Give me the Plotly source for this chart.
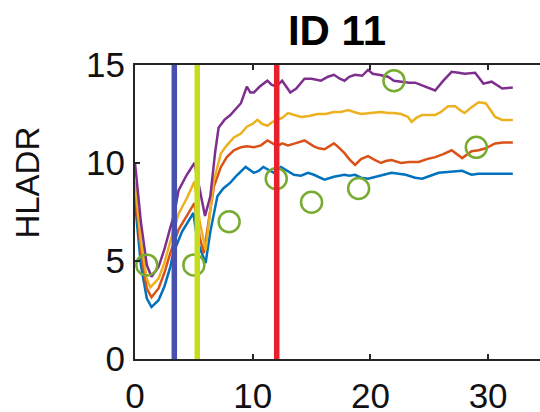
import plotly.graph_objects as go

# ---- data ----
t_blue = [0, 0.5, 1.0, 1.4, 2.0, 2.5, 3.0, 3.25, 4.0, 4.96, 5.3, 6.0, 6.4, 7.0, 7.5, 8.1, 8.7, 9.4,
          10.1, 10.5, 10.9, 11.3, 11.8, 12.4, 13.0, 13.5, 14.1, 14.7, 15.2, 15.6, 16.1, 16.9, 17.8,
          18.2, 18.7, 19.2, 19.8, 20.8, 21.8, 22.4, 23.0, 23.8, 24.4, 25.1, 25.8, 26.8, 27.8, 28.2,
          28.6, 29.2, 30.5, 32.1]
v_blue = [8.0, 4.8, 3.1, 2.65, 3.0, 3.7, 4.7, 5.4, 6.5, 7.45, 6.0, 4.9, 6.5, 8.3, 8.7, 9.0, 9.4, 9.8,
          9.5, 9.6, 9.8, 9.65, 9.5, 9.8, 9.6, 9.4, 9.35, 9.5, 9.4, 9.3, 9.15, 9.3, 9.4,
          9.35, 9.4, 9.25, 9.2, 9.35, 9.5, 9.45, 9.4, 9.25, 9.2, 9.35, 9.5, 9.55, 9.6, 9.5,
          9.4, 9.45, 9.45, 9.45]

t_red = [0, 0.5, 1.0, 1.4, 2.0, 2.5, 3.0, 3.7, 4.4, 5.05, 5.5, 5.85, 6.2, 6.7, 7.3, 7.8, 8.4, 9.0,
         9.5, 10.1, 10.7, 11.25, 11.7, 12.1, 12.5, 13.0, 13.6, 14.4, 15.2, 15.6, 16.1, 16.9, 17.3,
         17.8, 18.2, 18.7, 19.2, 19.8, 20.4, 20.9, 21.3, 21.8, 22.6, 23.3, 24.1, 24.8, 25.5, 26.2,
         26.9, 27.4, 27.8, 28.6, 29.2, 29.8, 30.6, 31.3, 32.1]
v_red = [8.6, 5.5, 3.6, 3.15, 3.6, 4.4, 5.4, 6.6, 7.3, 7.95, 6.2, 5.4, 6.8, 8.8, 9.8, 10.3, 10.65, 10.8,
         10.85, 10.8, 10.9, 11.15, 11.0, 10.85, 11.0, 10.9, 11.0, 11.15, 10.85, 10.75, 10.7, 11.0, 10.8,
         10.5, 10.2, 9.9, 10.2, 10.35, 10.15, 10.0, 10.1, 10.15, 10.0, 10.05, 10.05, 10.2, 10.3, 10.45,
         10.65, 10.45, 10.25, 10.6, 10.65, 10.75, 11.0, 11.05, 11.05]

t_yellow = [0, 0.5, 1.0, 1.3, 2.0, 2.5, 3.0, 3.7, 4.4, 5.05, 5.5, 6.0, 6.4, 6.7, 7.3, 7.8, 8.4, 9.0,
            9.5, 10.0, 10.4, 10.8, 11.25, 11.7, 12.1, 12.5, 13.0, 13.6, 14.1, 14.8, 15.5, 16.2, 16.9,
            17.5, 18.1, 18.6, 19.2, 20.0, 20.9, 21.5, 22.0, 22.6, 23.2, 23.5, 23.9, 24.4, 25.5, 26.0,
            26.6, 27.2, 27.6, 28.0, 28.6, 29.2, 29.8, 30.2, 30.6, 31.2, 32.1]
v_yellow = [9.0, 6.0, 4.1, 3.65, 4.1, 4.9, 6.0, 7.4, 8.2, 9.05, 7.0, 5.55, 7.6, 9.1, 10.5, 10.9, 11.3, 11.5,
            11.85, 12.0, 12.2, 12.0, 11.9, 12.1, 12.2, 12.3, 12.55, 12.45, 12.35, 12.4, 12.5, 12.5, 12.6,
            12.6, 12.7, 12.6, 12.5, 12.55, 12.6, 12.55, 12.55, 12.5, 12.35, 12.1, 12.3, 12.45, 12.45, 12.6,
            12.9, 12.9, 12.7, 12.55, 12.85, 13.1, 13.05, 12.7, 12.35, 12.2, 12.2]

t_purple = [0, 0.5, 1.0, 1.4, 2.0, 2.5, 3.0, 3.3, 3.7, 4.4, 5.05, 5.5, 5.95, 6.4, 6.8, 7.1, 7.6, 8.1,
            8.6, 9.0, 9.5, 9.8, 10.1, 10.6, 11.25, 11.6, 12.0, 12.5, 13.2, 13.7, 14.4, 15.0, 15.8,
            16.4, 16.9, 17.4, 17.8, 18.2, 18.7, 19.3, 19.8, 20.2, 20.7, 21.5, 22.0, 22.6, 23.3, 23.8,
            24.6, 25.5, 26.2, 26.9, 27.5, 28.0, 28.9, 29.3, 29.6, 30.3, 31.2, 32.1]
v_purple = [10.0, 7.0, 4.8, 4.2, 4.7, 5.6, 6.7, 7.3, 8.6, 9.4, 10.0, 8.6, 7.3, 8.3, 10.5, 11.8, 12.2, 12.45,
            12.8, 13.05, 13.9, 13.6, 13.6, 13.9, 14.2, 14.0, 13.9, 14.2, 13.6, 13.8, 14.3, 14.3, 14.2,
            14.4, 14.5, 14.3, 14.2, 14.4, 14.5, 14.45, 14.75, 14.55, 14.5, 14.4, 14.2, 14.15, 14.1, 14.1,
            13.9, 13.7, 14.2, 14.65, 14.6, 14.55, 14.6, 14.3, 14.05, 14.15, 13.8, 13.85]

obs_day = [1, 5, 8, 12, 15, 19, 22, 29]
obs_val = [4.8, 4.8, 7.0, 9.2, 8.0, 8.7, 14.2, 10.8]

event_days = [3.34, 5.29, 12.04]
event_colors = ["#4650AE", "#C6DD1E", "#E8202A"]

x_ticks = [0, 10, 20, 30]
y_ticks = [0, 5, 10, 15]
title_text = "ID 11"
y_label = "HLADR"

# ---- figure ----
fig = go.Figure()
series = [(t_blue, v_blue, "#0072BD"), (t_red, v_red, "#D95319"),
          (t_yellow, v_yellow, "#EDB120"), (t_purple, v_purple, "#7E2F8E")]
for tx, vy, col in series:
    fig.add_trace(go.Scatter(x=tx, y=vy, mode="lines",
                             line=dict(color=col, width=2.5), showlegend=False))

fig.add_trace(go.Scatter(x=obs_day, y=obs_val, mode="markers", showlegend=False,
                         marker=dict(symbol="circle-open", size=21, color="#77AC30",
                                     line=dict(color="#77AC30", width=2.5))))

for d, c in zip(event_days, event_colors):
    fig.add_trace(go.Scatter(x=[d, d], y=[y_ticks[0], y_ticks[-1]], mode="lines",
                             line=dict(color=c, width=5.5), showlegend=False))

axis_font = dict(family="Liberation Sans, Arial, sans-serif", size=35, color="#111111")
common = dict(ticks="inside", ticklen=5, tickwidth=1.5, tickcolor="#262626", showline=True,
              linewidth=2, linecolor="#262626", showgrid=False, zeroline=False, automargin=False)
fig.update_layout(
    width=540, height=412,
    margin=dict(l=135, r=0, t=65, b=53),
    paper_bgcolor="white", plot_bgcolor="white",
    title=dict(text="<b>" + title_text + "</b>", x=337/540, xref="container", xanchor="center",
               y=1 - 30/412, yref="container", yanchor="middle",
               font=dict(family="Liberation Sans, Arial, sans-serif", size=42, color="black")),
    xaxis=dict(range=[0, 34.41], tickvals=x_ticks, tickfont=axis_font, ticklabelstandoff=5, **common),
    xaxis2=dict(range=[0, 34.41], overlaying="x", side="top", tickvals=x_ticks,
                showticklabels=False, **common),
    yaxis=dict(range=[0, 15], tickvals=y_ticks, tickfont=axis_font, ticklabelstandoff=1, **common),
    annotations=[dict(text=y_label, xref="paper", yref="paper", x=(28 - 135) / 405, y=0.6,
                      xanchor="center", yanchor="middle", textangle=-90, showarrow=False,
                      font=dict(family="Liberation Sans, Arial, sans-serif", size=33, color="#111111"))],
)
# dummy trace to activate top axis
fig.add_trace(go.Scatter(x=[None], y=[None], xaxis="x2", showlegend=False, hoverinfo="skip"))

fig.write_html("out.html", config={"displayModeBar": False},
               post_script="document.body.style.margin='0px';document.body.style.overflow='hidden';")
